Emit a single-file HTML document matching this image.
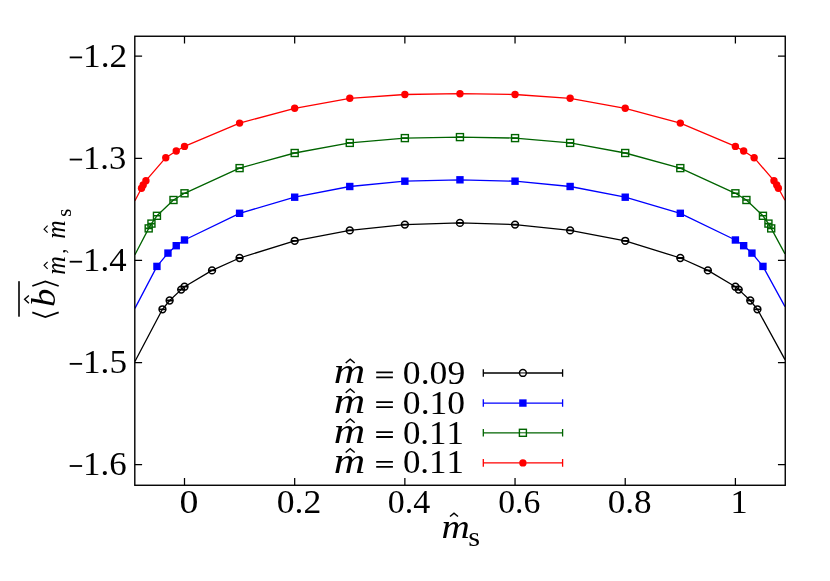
<!DOCTYPE html>
<html><head><meta charset="utf-8"><title>plot</title>
<style>
html,body{margin:0;padding:0;background:#fff;}
svg{display:block}
text{font-family:"Liberation Serif",serif;fill:#000;font-kerning:none}
.i{font-style:italic}
</style></head><body>
<svg width="830" height="581" viewBox="0 0 830 581">
<rect width="830" height="581" fill="#fff"/>
<defs><clipPath id="c"><rect x="134.8" y="36.25" width="650.45" height="449.02"/></clipPath></defs>
<g clip-path="url(#c)">
<path d="M134.92,361.50 L162.46,309.30 L169.63,300.50 L181.19,289.60 L184.50,286.70 L212.05,270.40 L239.59,258.00 L294.68,240.80 L349.77,230.40 L404.86,224.60 L459.95,222.90 L515.04,224.60 L570.13,230.40 L625.22,240.80 L680.31,258.00 L707.85,270.40 L735.40,286.70 L738.71,289.60 L750.27,300.50 L757.44,309.30 L784.98,359.60" fill="none" stroke="#000000" stroke-width="1.3" stroke-linejoin="round"/>
<circle cx="162.46" cy="309.30" r="3.42" fill="none" stroke="#000000" stroke-width="1.5"/><path d="M159.06,309.30 h6.8" stroke="#000000" stroke-width="1.8"/>
<circle cx="169.63" cy="300.50" r="3.42" fill="none" stroke="#000000" stroke-width="1.5"/><path d="M166.23,300.50 h6.8" stroke="#000000" stroke-width="1.8"/>
<circle cx="181.19" cy="289.60" r="3.42" fill="none" stroke="#000000" stroke-width="1.5"/><path d="M177.79,289.60 h6.8" stroke="#000000" stroke-width="1.8"/>
<circle cx="184.50" cy="286.70" r="3.42" fill="none" stroke="#000000" stroke-width="1.5"/><path d="M181.10,286.70 h6.8" stroke="#000000" stroke-width="1.8"/>
<circle cx="212.05" cy="270.40" r="3.42" fill="none" stroke="#000000" stroke-width="1.5"/><path d="M208.65,270.40 h6.8" stroke="#000000" stroke-width="1.8"/>
<circle cx="239.59" cy="258.00" r="3.42" fill="none" stroke="#000000" stroke-width="1.5"/><path d="M236.19,258.00 h6.8" stroke="#000000" stroke-width="1.8"/>
<circle cx="294.68" cy="240.80" r="3.42" fill="none" stroke="#000000" stroke-width="1.5"/><path d="M291.28,240.80 h6.8" stroke="#000000" stroke-width="1.8"/>
<circle cx="349.77" cy="230.40" r="3.42" fill="none" stroke="#000000" stroke-width="1.5"/><path d="M346.37,230.40 h6.8" stroke="#000000" stroke-width="1.8"/>
<circle cx="404.86" cy="224.60" r="3.42" fill="none" stroke="#000000" stroke-width="1.5"/><path d="M401.46,224.60 h6.8" stroke="#000000" stroke-width="1.8"/>
<circle cx="459.95" cy="222.90" r="3.42" fill="none" stroke="#000000" stroke-width="1.5"/><path d="M456.55,222.90 h6.8" stroke="#000000" stroke-width="1.8"/>
<circle cx="515.04" cy="224.60" r="3.42" fill="none" stroke="#000000" stroke-width="1.5"/><path d="M511.64,224.60 h6.8" stroke="#000000" stroke-width="1.8"/>
<circle cx="570.13" cy="230.40" r="3.42" fill="none" stroke="#000000" stroke-width="1.5"/><path d="M566.73,230.40 h6.8" stroke="#000000" stroke-width="1.8"/>
<circle cx="625.22" cy="240.80" r="3.42" fill="none" stroke="#000000" stroke-width="1.5"/><path d="M621.82,240.80 h6.8" stroke="#000000" stroke-width="1.8"/>
<circle cx="680.31" cy="258.00" r="3.42" fill="none" stroke="#000000" stroke-width="1.5"/><path d="M676.91,258.00 h6.8" stroke="#000000" stroke-width="1.8"/>
<circle cx="707.85" cy="270.40" r="3.42" fill="none" stroke="#000000" stroke-width="1.5"/><path d="M704.45,270.40 h6.8" stroke="#000000" stroke-width="1.8"/>
<circle cx="735.40" cy="286.70" r="3.42" fill="none" stroke="#000000" stroke-width="1.5"/><path d="M732.00,286.70 h6.8" stroke="#000000" stroke-width="1.8"/>
<circle cx="738.71" cy="289.60" r="3.42" fill="none" stroke="#000000" stroke-width="1.5"/><path d="M735.31,289.60 h6.8" stroke="#000000" stroke-width="1.8"/>
<circle cx="750.27" cy="300.50" r="3.42" fill="none" stroke="#000000" stroke-width="1.5"/><path d="M746.87,300.50 h6.8" stroke="#000000" stroke-width="1.8"/>
<circle cx="757.44" cy="309.30" r="3.42" fill="none" stroke="#000000" stroke-width="1.5"/><path d="M754.04,309.30 h6.8" stroke="#000000" stroke-width="1.8"/>
<path d="M134.92,308.40 L156.95,266.40 L167.97,253.10 L176.24,245.70 L184.50,240.00 L239.59,213.30 L294.68,197.20 L349.77,186.50 L404.86,181.20 L459.95,179.80 L515.04,181.20 L570.13,186.50 L625.22,197.20 L680.31,213.30 L735.40,240.00 L743.66,245.70 L751.93,253.10 L762.95,266.40 L784.98,306.60" fill="none" stroke="#0000ff" stroke-width="1.3" stroke-linejoin="round"/>
<rect x="153.25" y="262.70" width="7.4" height="7.4" fill="#0000ff"/>
<rect x="164.27" y="249.40" width="7.4" height="7.4" fill="#0000ff"/>
<rect x="172.54" y="242.00" width="7.4" height="7.4" fill="#0000ff"/>
<rect x="180.80" y="236.30" width="7.4" height="7.4" fill="#0000ff"/>
<rect x="235.89" y="209.60" width="7.4" height="7.4" fill="#0000ff"/>
<rect x="290.98" y="193.50" width="7.4" height="7.4" fill="#0000ff"/>
<rect x="346.07" y="182.80" width="7.4" height="7.4" fill="#0000ff"/>
<rect x="401.16" y="177.50" width="7.4" height="7.4" fill="#0000ff"/>
<rect x="456.25" y="176.10" width="7.4" height="7.4" fill="#0000ff"/>
<rect x="511.34" y="177.50" width="7.4" height="7.4" fill="#0000ff"/>
<rect x="566.43" y="182.80" width="7.4" height="7.4" fill="#0000ff"/>
<rect x="621.52" y="193.50" width="7.4" height="7.4" fill="#0000ff"/>
<rect x="676.61" y="209.60" width="7.4" height="7.4" fill="#0000ff"/>
<rect x="731.70" y="236.30" width="7.4" height="7.4" fill="#0000ff"/>
<rect x="739.96" y="242.00" width="7.4" height="7.4" fill="#0000ff"/>
<rect x="748.23" y="249.40" width="7.4" height="7.4" fill="#0000ff"/>
<rect x="759.25" y="262.70" width="7.4" height="7.4" fill="#0000ff"/>
<path d="M134.92,254.80 L148.69,228.40 L151.45,223.60 L156.95,215.80 L173.48,200.00 L184.50,193.30 L239.59,168.10 L294.68,153.00 L349.77,142.90 L404.86,138.10 L459.95,137.10 L515.04,138.10 L570.13,142.90 L625.22,153.00 L680.31,168.10 L735.40,193.30 L746.42,200.00 L762.95,215.80 L768.45,223.60 L771.21,228.40 L784.98,253.90" fill="none" stroke="#006400" stroke-width="1.3" stroke-linejoin="round"/>
<rect x="145.19" y="224.90" width="7" height="7" fill="none" stroke="#006400" stroke-width="1.4"/><path d="M145.19,228.40 h7" stroke="#006400" stroke-width="1.6"/>
<rect x="147.95" y="220.10" width="7" height="7" fill="none" stroke="#006400" stroke-width="1.4"/><path d="M147.95,223.60 h7" stroke="#006400" stroke-width="1.6"/>
<rect x="153.45" y="212.30" width="7" height="7" fill="none" stroke="#006400" stroke-width="1.4"/><path d="M153.45,215.80 h7" stroke="#006400" stroke-width="1.6"/>
<rect x="169.98" y="196.50" width="7" height="7" fill="none" stroke="#006400" stroke-width="1.4"/><path d="M169.98,200.00 h7" stroke="#006400" stroke-width="1.6"/>
<rect x="181.00" y="189.80" width="7" height="7" fill="none" stroke="#006400" stroke-width="1.4"/><path d="M181.00,193.30 h7" stroke="#006400" stroke-width="1.6"/>
<rect x="236.09" y="164.60" width="7" height="7" fill="none" stroke="#006400" stroke-width="1.4"/><path d="M236.09,168.10 h7" stroke="#006400" stroke-width="1.6"/>
<rect x="291.18" y="149.50" width="7" height="7" fill="none" stroke="#006400" stroke-width="1.4"/><path d="M291.18,153.00 h7" stroke="#006400" stroke-width="1.6"/>
<rect x="346.27" y="139.40" width="7" height="7" fill="none" stroke="#006400" stroke-width="1.4"/><path d="M346.27,142.90 h7" stroke="#006400" stroke-width="1.6"/>
<rect x="401.36" y="134.60" width="7" height="7" fill="none" stroke="#006400" stroke-width="1.4"/><path d="M401.36,138.10 h7" stroke="#006400" stroke-width="1.6"/>
<rect x="456.45" y="133.60" width="7" height="7" fill="none" stroke="#006400" stroke-width="1.4"/><path d="M456.45,137.10 h7" stroke="#006400" stroke-width="1.6"/>
<rect x="511.54" y="134.60" width="7" height="7" fill="none" stroke="#006400" stroke-width="1.4"/><path d="M511.54,138.10 h7" stroke="#006400" stroke-width="1.6"/>
<rect x="566.63" y="139.40" width="7" height="7" fill="none" stroke="#006400" stroke-width="1.4"/><path d="M566.63,142.90 h7" stroke="#006400" stroke-width="1.6"/>
<rect x="621.72" y="149.50" width="7" height="7" fill="none" stroke="#006400" stroke-width="1.4"/><path d="M621.72,153.00 h7" stroke="#006400" stroke-width="1.6"/>
<rect x="676.81" y="164.60" width="7" height="7" fill="none" stroke="#006400" stroke-width="1.4"/><path d="M676.81,168.10 h7" stroke="#006400" stroke-width="1.6"/>
<rect x="731.90" y="189.80" width="7" height="7" fill="none" stroke="#006400" stroke-width="1.4"/><path d="M731.90,193.30 h7" stroke="#006400" stroke-width="1.6"/>
<rect x="742.92" y="196.50" width="7" height="7" fill="none" stroke="#006400" stroke-width="1.4"/><path d="M742.92,200.00 h7" stroke="#006400" stroke-width="1.6"/>
<rect x="759.45" y="212.30" width="7" height="7" fill="none" stroke="#006400" stroke-width="1.4"/><path d="M759.45,215.80 h7" stroke="#006400" stroke-width="1.6"/>
<rect x="764.95" y="220.10" width="7" height="7" fill="none" stroke="#006400" stroke-width="1.4"/><path d="M764.95,223.60 h7" stroke="#006400" stroke-width="1.6"/>
<rect x="767.71" y="224.90" width="7" height="7" fill="none" stroke="#006400" stroke-width="1.4"/><path d="M767.71,228.40 h7" stroke="#006400" stroke-width="1.6"/>
<path d="M134.92,200.80 L141.53,188.30 L143.18,185.00 L145.94,180.70 L165.77,157.70 L176.24,151.00 L184.50,146.40 L239.59,123.10 L294.68,108.30 L349.77,98.30 L404.86,94.50 L459.95,93.70 L515.04,94.50 L570.13,98.30 L625.22,108.30 L680.31,123.10 L735.40,146.40 L743.66,151.00 L754.13,157.70 L773.96,180.70 L776.72,185.00 L778.37,188.30 L784.98,200.30" fill="none" stroke="#ff0000" stroke-width="1.3" stroke-linejoin="round"/>
<circle cx="141.53" cy="188.30" r="3.7" fill="#ff0000"/>
<circle cx="143.18" cy="185.00" r="3.7" fill="#ff0000"/>
<circle cx="145.94" cy="180.70" r="3.7" fill="#ff0000"/>
<circle cx="165.77" cy="157.70" r="3.7" fill="#ff0000"/>
<circle cx="176.24" cy="151.00" r="3.7" fill="#ff0000"/>
<circle cx="184.50" cy="146.40" r="3.7" fill="#ff0000"/>
<circle cx="239.59" cy="123.10" r="3.7" fill="#ff0000"/>
<circle cx="294.68" cy="108.30" r="3.7" fill="#ff0000"/>
<circle cx="349.77" cy="98.30" r="3.7" fill="#ff0000"/>
<circle cx="404.86" cy="94.50" r="3.7" fill="#ff0000"/>
<circle cx="459.95" cy="93.70" r="3.7" fill="#ff0000"/>
<circle cx="515.04" cy="94.50" r="3.7" fill="#ff0000"/>
<circle cx="570.13" cy="98.30" r="3.7" fill="#ff0000"/>
<circle cx="625.22" cy="108.30" r="3.7" fill="#ff0000"/>
<circle cx="680.31" cy="123.10" r="3.7" fill="#ff0000"/>
<circle cx="735.40" cy="146.40" r="3.7" fill="#ff0000"/>
<circle cx="743.66" cy="151.00" r="3.7" fill="#ff0000"/>
<circle cx="754.13" cy="157.70" r="3.7" fill="#ff0000"/>
<circle cx="773.96" cy="180.70" r="3.7" fill="#ff0000"/>
<circle cx="776.72" cy="185.00" r="3.7" fill="#ff0000"/>
<circle cx="778.37" cy="188.30" r="3.7" fill="#ff0000"/>
</g>
<rect x="134.8" y="36.25" width="650.45" height="449.02" fill="none" stroke="#000" stroke-width="1.4"/>
<path d="M184.50,485.27 v-7.3 M184.50,36.25 v7.3 M294.68,485.27 v-7.3 M294.68,36.25 v7.3 M404.86,485.27 v-7.3 M404.86,36.25 v7.3 M515.04,485.27 v-7.3 M515.04,36.25 v7.3 M625.22,485.27 v-7.3 M625.22,36.25 v7.3 M735.40,485.27 v-7.3 M735.40,36.25 v7.3 M134.80,56.10 h7.3 M785.25,56.10 h-7.3 M134.80,158.25 h7.3 M785.25,158.25 h-7.3 M134.80,260.40 h7.3 M785.25,260.40 h-7.3 M134.80,362.55 h7.3 M785.25,362.55 h-7.3 M134.80,464.70 h7.3 M785.25,464.70 h-7.3" stroke="#000" stroke-width="1.25" fill="none"/>
<path d="M483.3,372.95 H519.6 M526.2,372.95 H562.6" stroke="#000000" stroke-width="1.35" fill="none"/>
<path d="M519.6,372.95 H526.2" stroke="#000000" stroke-width="1.0" fill="none"/>
<path d="M483.3,369.15 v7.6 M562.6,369.15 v7.6" stroke="#000000" stroke-width="1.3" fill="none"/>
<circle cx="522.9" cy="372.95" r="3.42" fill="none" stroke="#000000" stroke-width="1.5"/>
<path d="M483.3,403.05 H519.6 M526.2,403.05 H562.6" stroke="#0000ff" stroke-width="1.35" fill="none"/>
<path d="M519.6,403.05 H526.2" stroke="#0000ff" stroke-width="1.0" fill="none"/>
<path d="M483.3,399.25 v7.6 M562.6,399.25 v7.6" stroke="#0000ff" stroke-width="1.3" fill="none"/>
<rect x="519.20" y="399.35" width="7.4" height="7.4" fill="#0000ff"/>
<path d="M483.3,432.80 H519.6 M526.2,432.80 H562.6" stroke="#006400" stroke-width="1.35" fill="none"/>
<path d="M519.6,432.80 H526.2" stroke="#006400" stroke-width="1.0" fill="none"/>
<path d="M483.3,429.00 v7.6 M562.6,429.00 v7.6" stroke="#006400" stroke-width="1.3" fill="none"/>
<rect x="519.4" y="429.30" width="7" height="7" fill="none" stroke="#006400" stroke-width="1.4"/>
<path d="M483.3,462.90 H519.6 M526.2,462.90 H562.6" stroke="#ff0000" stroke-width="1.35" fill="none"/>
<path d="M519.6,462.90 H526.2" stroke="#ff0000" stroke-width="1.0" fill="none"/>
<path d="M483.3,459.10 v7.6 M562.6,459.10 v7.6" stroke="#ff0000" stroke-width="1.3" fill="none"/>
<circle cx="522.90" cy="462.90" r="3.7" fill="#ff0000"/>
<g style="filter:grayscale(1)">
<text class="n" font-size="34.5" transform="translate(179.48,512.90) scale(1.0980,1)">0</text>
<text class="n" font-size="34.5" transform="translate(276.66,512.90) scale(1.0342,1)">0.2</text>
<text class="n" font-size="34.5" transform="translate(387.73,512.90) scale(0.9851,1)">0.4</text>
<text class="n" font-size="34.5" transform="translate(498.13,512.90) scale(0.9780,1)">0.6</text>
<text class="n" font-size="34.5" transform="translate(607.68,512.90) scale(1.0188,1)">0.8</text>
<text class="n" font-size="34.5" transform="translate(730.60,512.90) scale(0.9950,1)">1</text>
<text class="n" font-size="34.5" transform="translate(83.00,66.70) scale(1.0259,1)">1.2</text>
<rect x="69.7" y="56.50" width="12.4" height="1.8" fill="#000"/>
<text class="n" font-size="34.5" transform="translate(83.08,168.85) scale(1.0019,1)">1.3</text>
<rect x="69.7" y="158.65" width="12.4" height="1.8" fill="#000"/>
<text class="n" font-size="34.5" transform="translate(83.06,271.00) scale(1.0079,1)">1.4</text>
<rect x="69.7" y="260.80" width="12.4" height="1.8" fill="#000"/>
<text class="n" font-size="34.5" transform="translate(83.02,373.15) scale(1.0200,1)">1.5</text>
<rect x="69.7" y="362.95" width="12.4" height="1.8" fill="#000"/>
<text class="n" font-size="34.5" transform="translate(83.05,475.30) scale(1.0110,1)">1.6</text>
<rect x="69.7" y="465.10" width="12.4" height="1.8" fill="#000"/>
<text class="n" font-size="34.5" transform="translate(402.86,383.80) scale(1.0329,1)">0.09</text>
<text class="i" font-size="35" transform="translate(333.87,383.40) scale(1.2451,1)">m</text>
<path d="M345.7,363.00 L350.2,359.20 L354.7,363.00" fill="none" stroke="#000" stroke-width="1.5"/>
<path d="M376.2,372.40 h16.7 M376.2,377.30 h16.7" stroke="#000" stroke-width="1.8"/>
<text class="n" font-size="34.5" transform="translate(402.87,413.60) scale(1.0314,1)">0.10</text>
<text class="i" font-size="35" transform="translate(333.87,413.20) scale(1.2451,1)">m</text>
<path d="M345.7,392.80 L350.2,389.00 L354.7,392.80" fill="none" stroke="#000" stroke-width="1.5"/>
<path d="M376.2,402.20 h16.7 M376.2,407.10 h16.7" stroke="#000" stroke-width="1.8"/>
<text class="n" font-size="34.5" transform="translate(402.89,443.50) scale(1.0121,1)">0.11</text>
<text class="i" font-size="35" transform="translate(333.87,443.10) scale(1.2451,1)">m</text>
<path d="M345.7,422.70 L350.2,418.90 L354.7,422.70" fill="none" stroke="#000" stroke-width="1.5"/>
<path d="M376.2,432.10 h16.7 M376.2,437.00 h16.7" stroke="#000" stroke-width="1.8"/>
<text class="n" font-size="34.5" transform="translate(402.89,473.30) scale(1.0121,1)">0.11</text>
<text class="i" font-size="35" transform="translate(333.87,472.90) scale(1.2451,1)">m</text>
<path d="M345.7,452.50 L350.2,448.70 L354.7,452.50" fill="none" stroke="#000" stroke-width="1.5"/>
<path d="M376.2,461.90 h16.7 M376.2,466.80 h16.7" stroke="#000" stroke-width="1.8"/>
<text class="i" font-size="34.5" transform="translate(441.43,537.70) scale(1.1369,1)">m</text>
<path d="M450.0,516.5 L454.0,513.2 L458.0,516.5" fill="none" stroke="#000" stroke-width="1.5"/>
<text class="n" font-size="27.7" transform="translate(468.18,546.40) scale(1.0975,1)">s</text>
<text class="i" font-size="33.5" transform="translate(55.20,306.85) rotate(-90) scale(1.0767,1)">b</text>
<text class="i" font-size="26.5" transform="translate(64.50,274.76) rotate(-90) scale(0.9691,1)">m</text>
<text class="n" font-size="20" transform="translate(64.80,253.78) rotate(-90) scale(1.0333,1)">,</text>
<text class="i" font-size="26.5" transform="translate(64.50,238.86) rotate(-90) scale(0.9632,1)">m</text>
<text class="n" font-size="22" transform="translate(71.30,216.83) rotate(-90) scale(0.9455,1)">s</text>
<rect x="18.2" y="281.2" width="1.6" height="35.5" fill="#000"/>
<path d="M32.3,312.4 L45.3,317.0 L58.7,312.4" fill="none" stroke="#000" stroke-width="1.7"/>
<path d="M32.3,286.0 L45.3,281.5 L58.7,286.0" fill="none" stroke="#000" stroke-width="1.7"/>
<path d="M28.9,303.3 L24.6,299.3 L28.9,295.4" fill="none" stroke="#000" stroke-width="1.4"/>
<path d="M47.6,268.8 L44.1,265.3 L47.6,261.8" fill="none" stroke="#000" stroke-width="1.15"/>
<path d="M47.6,232.7 L44.1,229.2 L47.6,225.6" fill="none" stroke="#000" stroke-width="1.15"/>
</g>
</svg>
</body></html>
